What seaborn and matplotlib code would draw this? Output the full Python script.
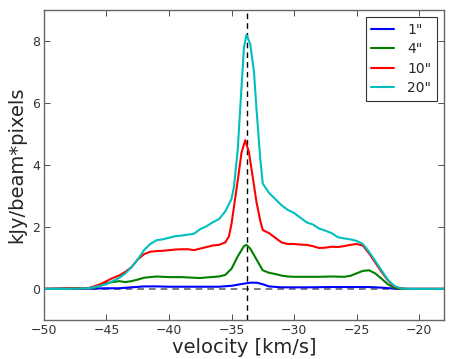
import numpy as np
import pandas as pd
import matplotlib
matplotlib.use("Agg")
import matplotlib.pyplot as plt
import seaborn as sns

# velocity grids and profiles
v_20 = [-50, -48, -46.5, -46, -45, -44.5, -44, -43.5, -43, -42.5, -42, -41.5, -41,
        -40.5, -40, -39.5, -39, -38.5, -38, -37.5, -37, -36.5, -36, -35.5, -35,
        -34.8, -34.5, -34.2, -34, -33.8, -33.5, -33.2, -33, -32.7, -32.5, -32,
        -31.5, -31, -30.5, -30, -29.5, -29, -28.5, -28, -27.5, -27, -26.5, -26,
        -25.5, -25, -24.5, -24, -23.5, -23, -22.5, -22, -21.5, -21, -18]
f_20 = [0, 0, 0.02, 0.05, 0.15, 0.25, 0.35, 0.5, 0.7, 0.95, 1.25, 1.45, 1.57,
        1.6, 1.65, 1.7, 1.72, 1.75, 1.78, 1.93, 2.02, 2.15, 2.25, 2.5, 2.9,
        3.3, 4.5, 6.5, 7.8, 8.2, 7.9, 7.0, 5.8, 4.2, 3.4, 3.1,
        2.9, 2.7, 2.55, 2.45, 2.3, 2.15, 2.08, 1.95, 1.88, 1.8, 1.67, 1.63,
        1.6, 1.55, 1.45, 1.2, 0.9, 0.6, 0.3, 0.1, 0.02, 0, 0]

v_10 = [-50, -46.5, -46, -45.5, -45, -44.5, -44, -43.5, -43, -42.5, -42, -41.5,
        -41, -40.5, -40, -39.5, -39, -38.5, -38, -37.5, -37, -36.5, -36, -35.5,
        -35.2, -35, -34.5, -34.2, -33.9, -33.6, -33.3, -33, -32.7, -32.5, -32,
        -31.5, -31, -30.5, -30, -29.5, -29, -28.5, -28, -27.5, -27, -26.5, -26,
        -25.5, -25, -24.5, -24, -23.5, -23, -22.5, -22, -21.5, -21, -18]
f_10 = [0, 0.02, 0.08, 0.15, 0.25, 0.35, 0.43, 0.55, 0.7, 0.95, 1.12, 1.2,
        1.22, 1.23, 1.25, 1.27, 1.28, 1.28, 1.25, 1.3, 1.35, 1.4, 1.42, 1.5,
        1.7, 2.1, 3.5, 4.4, 4.8, 4.4, 3.6, 2.8, 2.2, 1.9, 1.8,
        1.65, 1.5, 1.45, 1.45, 1.43, 1.42, 1.38, 1.32, 1.33, 1.36, 1.35, 1.38,
        1.42, 1.45, 1.4, 1.15, 0.85, 0.55, 0.28, 0.08, 0.02, 0, 0]

v_4 = [-50, -46, -45.5, -45, -44.5, -44, -43.5, -43, -42.5, -42, -41.5, -41,
       -40.5, -40, -39, -38, -37.5, -37, -36, -35.5, -35, -34.5, -34, -33.8,
       -33.5, -33, -32.5, -32, -31.5, -31, -30.5, -30, -28, -27, -26, -25.5,
       -25, -24.5, -24, -23.5, -23, -22.5, -22, -21.5, -18]
f_4 = [0, 0.03, 0.1, 0.18, 0.22, 0.25, 0.22, 0.25, 0.3, 0.36, 0.38, 0.4,
       0.39, 0.38, 0.38, 0.36, 0.35, 0.37, 0.4, 0.45, 0.65, 1.05, 1.38, 1.42,
       1.3, 0.95, 0.6, 0.52, 0.48, 0.43, 0.4, 0.39, 0.39, 0.4, 0.39, 0.42,
       0.5, 0.58, 0.6, 0.5, 0.33, 0.15, 0.04, 0, 0]

v_1 = [-50, -46, -45, -44, -43, -42, -41, -40, -38, -36, -35, -34, -33.5, -33,
       -32.5, -32, -31, -29, -27, -25, -24, -23, -22, -21, -18]
f_1 = [0, 0.01, 0.02, 0.02, 0.05, 0.08, 0.08, 0.07, 0.07, 0.07, 0.1, 0.17,
       0.2, 0.2, 0.15, 0.08, 0.05, 0.05, 0.06, 0.06, 0.06, 0.04, 0.01, 0, 0]

labels = ['1"', '4"', '10"', '20"']
colors = ["#0000ff", "#008000", "#ff0000", "#00bfbf"]
v_sys = -33.8

df = pd.concat([
    pd.DataFrame({"velocity": v_1, "flux": f_1, "aperture": labels[0]}),
    pd.DataFrame({"velocity": v_4, "flux": f_4, "aperture": labels[1]}),
    pd.DataFrame({"velocity": v_10, "flux": f_10, "aperture": labels[2]}),
    pd.DataFrame({"velocity": v_20, "flux": f_20, "aperture": labels[3]}),
])

sns.set_style("ticks", {"xtick.direction": "in", "ytick.direction": "in"})
plt.rcParams["font.family"] = ["DejaVu Sans"]

fig = plt.figure(figsize=(4.63, 3.59), dpi=100)
ax = fig.add_axes([0.095, 0.109, 0.864, 0.863])

ax.axhline(0, color="0.4", ls="--", lw=1.2, dashes=(4, 3))
ax.axvline(v_sys, color="black", ls="--", lw=1, dashes=(4, 3))

sns.lineplot(data=df, x="velocity", y="flux", hue="aperture",
             hue_order=labels, palette=colors, lw=1.5, ax=ax,
             estimator=None, sort=False)

ax.set_xlim(-50, -18)
ax.set_ylim(-1, 9)
ax.set_xticks([-50, -45, -40, -35, -30, -25, -20])
ax.set_yticks([0, 2, 4, 6, 8])
ax.tick_params(top=True, right=True, length=4, labelsize=9, pad=3,
               colors="0.2", width=0.6)
for s in ax.spines.values():
    s.set_color("0.4")
    s.set_linewidth(1)

ax.set_xlabel("velocity [km/s]", fontsize=14, labelpad=1)
ax.set_ylabel("kJy/beam*pixels", fontsize=14, labelpad=4)

leg = ax.legend(loc="upper right", fontsize=10, fancybox=False,
                edgecolor="0.2", framealpha=1, handlelength=1.6,
                handletextpad=1.0, borderaxespad=0.5, labelspacing=0.4,
                borderpad=0.4)
leg.get_frame().set_linewidth(0.8)

fig.savefig("out.png", dpi=100)
